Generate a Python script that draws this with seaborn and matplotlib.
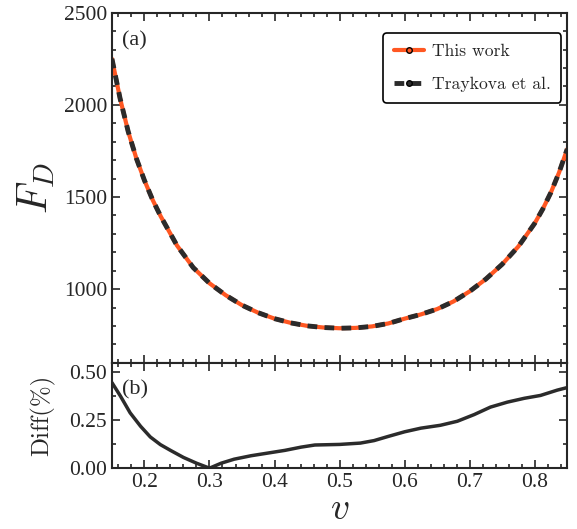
import numpy as np
import pandas as pd
import matplotlib
matplotlib.use("Agg")
import matplotlib.pyplot as plt
from matplotlib.lines import Line2D
from matplotlib.ticker import MultipleLocator
import seaborn as sns

# values
v_fd = [0.15, 0.1625, 0.175, 0.1875, 0.2, 0.2125, 0.225, 0.25, 0.275, 0.3,
        0.325, 0.35, 0.375, 0.4, 0.425, 0.45, 0.475, 0.5, 0.525, 0.55,
        0.575, 0.6, 0.625, 0.65, 0.675, 0.7, 0.725, 0.75, 0.775, 0.8,
        0.8125, 0.825, 0.8375, 0.85]
fd_this = [2250, 2035, 1855, 1710, 1590, 1485, 1395, 1237, 1117, 1032,
           967, 913, 872, 840, 817, 801, 792, 788, 790, 798,
           814, 840, 863, 892, 933, 988, 1055, 1135, 1232, 1357,
           1435, 1525, 1633, 1760]
fd_traykova = [2250, 2035, 1855, 1710, 1590, 1485, 1395, 1237, 1117, 1032,
               967, 913, 872, 840, 817, 801, 792, 788, 790, 798,
               814, 840, 863, 892, 933, 988, 1055, 1135, 1232, 1357,
               1435, 1525, 1633, 1760]

v_diff = [0.15, 0.163, 0.178, 0.194, 0.209, 0.2245, 0.24, 0.26, 0.28, 0.3,
          0.318, 0.338, 0.364, 0.39, 0.416, 0.441, 0.462, 0.5, 0.532, 0.553,
          0.575, 0.6, 0.625, 0.655, 0.681, 0.707, 0.732, 0.758, 0.784, 0.809,
          0.835, 0.85]
diff = [0.447, 0.377, 0.289, 0.219, 0.163, 0.123, 0.093, 0.056, 0.026, 0.0,
        0.026, 0.047, 0.065, 0.079, 0.093, 0.110, 0.121, 0.124, 0.131, 0.144,
        0.166, 0.190, 0.209, 0.224, 0.245, 0.280, 0.319, 0.345, 0.365, 0.380,
        0.408, 0.421]

sns.set_style("ticks")
plt.rcParams['font.family'] = ['Liberation Serif', 'DejaVu Serif']
plt.rcParams['mathtext.fontset'] = 'cm'
plt.rcParams['axes.linewidth'] = 1.5

orange = '#ff5722'
dark = '#2b2b2b'

df_fd = pd.DataFrame({'v': v_fd, 'this': fd_this, 'tray': fd_traykova})
df_diff = pd.DataFrame({'v': v_diff, 'diff': diff})

fig = plt.figure(figsize=(5.77, 5.29), dpi=100)
ax1 = fig.add_axes([0.194, 0.314, 0.789, 0.662])
ax2 = fig.add_axes([0.194, 0.115, 0.789, 0.199])

sns.lineplot(data=df_fd, x='v', y='this', ax=ax1, color=orange, lw=3)
sns.lineplot(data=df_fd, x='v', y='tray', ax=ax1, color=dark, lw=3.5,
             linestyle=(0, (2.0, 1.5)))
sns.lineplot(data=df_diff, x='v', y='diff', ax=ax2, color=dark, lw=2.5)

ax1.set_xlim(0.15, 0.85)
ax1.set_ylim(600, 2500)
ax2.set_xlim(0.15, 0.85)
ax2.set_ylim(0, 0.55)

ax1.yaxis.set_major_locator(MultipleLocator(500))
ax1.yaxis.set_minor_locator(MultipleLocator(100))
ax2.yaxis.set_major_locator(MultipleLocator(0.25))
ax2.yaxis.set_minor_locator(MultipleLocator(0.125))
for ax in (ax1, ax2):
    ax.xaxis.set_major_locator(MultipleLocator(0.1))
    ax.xaxis.set_minor_locator(MultipleLocator(0.02))
    ax.tick_params(which='both', direction='in', top=True, right=True,
                   labelsize=15.5, width=1.2)
    ax.tick_params(which='major', length=6)
    ax.tick_params(which='minor', length=3)
ax1.tick_params(labelbottom=False)
ax2.yaxis.set_major_formatter(plt.FormatStrFormatter('%.2f'))
ax2.xaxis.set_major_formatter(plt.FormatStrFormatter('%.1f'))

ax1.set_xlabel('')
ax1.set_ylabel(r'$F_D$', fontsize=30)
ax2.set_ylabel('Diff(%)', fontsize=18, family='cmr10')
ax2.set_xlabel(r'$v$', fontsize=27, labelpad=0)
ax1.yaxis.set_label_coords(-0.12, 0.5)
ax2.yaxis.set_label_coords(-0.125, 0.5)

ax1.text(0.022, 0.92, '(a)', transform=ax1.transAxes, fontsize=16, va='center')
ax2.text(0.022, 0.74, '(b)', transform=ax2.transAxes, fontsize=16, va='center')

handles = [
    Line2D([], [], color=orange, lw=3, marker='o', markersize=4,
           markerfacecolor=orange, markeredgecolor='black'),
    Line2D([], [], color=dark, lw=3.5, linestyle=(0, (2.0, 1.5)), marker='o',
           markersize=4, markerfacecolor=dark, markeredgecolor='black'),
]
leg = ax1.legend(handles, ['This work', 'Traykova et al.'], loc='upper right',
                 bbox_to_anchor=(0.987, 0.942), borderaxespad=0,
                 prop={'family': 'cmr10', 'size': 12.7}, frameon=True,
                 fancybox=True, framealpha=1, edgecolor='black',
                 handlelength=1.7, handletextpad=0.45, labelspacing=1.0,
                 borderpad=0.6)
leg.get_frame().set_linewidth(1.2)

fig.savefig('out.png', dpi=100)
